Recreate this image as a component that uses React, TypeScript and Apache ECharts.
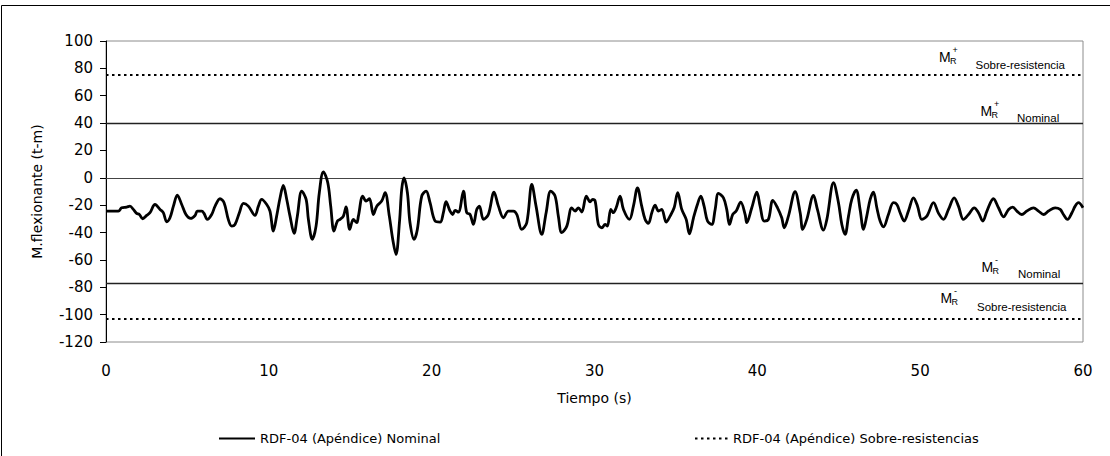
import React, { useEffect, useRef } from "react";
import * as echarts from "echarts";

// Time (s)
const timeS = [
  0, 0.76, 0.96, 1.27, 1.47, 1.68, 1.88, 2.05, 2.25, 2.5, 2.7, 3.01, 3.32, 3.52, 3.73, 3.93, 4.14, 4.38, 4.65, 4.91,
  5.2, 5.47, 5.61, 5.88, 6.02, 6.22, 6.49, 6.7, 7.0, 7.25, 7.51, 7.72, 7.92, 8.19, 8.44, 8.74, 9.15, 9.36, 9.56, 9.87,
  10.07, 10.28, 10.48, 10.69, 10.89, 11.1, 11.3, 11.55, 11.75, 12.02, 12.29, 12.43, 12.67, 12.9, 13.1, 13.35, 13.62, 13.8, 14.0, 14.21,
  14.37, 14.58, 14.74, 14.97, 15.19, 15.4, 15.5, 15.77, 15.97, 16.18, 16.42, 16.63, 16.93, 17.14, 17.4, 17.61, 17.81, 18.02, 18.16, 18.3,
  18.51, 18.67, 18.92, 19.12, 19.39, 19.66, 19.9, 20.21, 20.52, 20.72, 20.88, 21.13, 21.29, 21.44, 21.64, 21.95, 22.15, 22.36, 22.56, 22.77,
  22.93, 23.18, 23.48, 23.83, 24.1, 24.41, 24.71, 25.02, 25.23, 25.53, 25.84, 26.15, 26.41, 26.76, 27.03, 27.31, 27.58, 27.78, 27.99, 28.3,
  28.6, 28.81, 29.01, 29.22, 29.5, 29.73, 29.89, 30.04, 30.24, 30.45, 30.65, 30.79, 31.0, 31.16, 31.33, 31.57, 31.78, 32.15, 32.39, 32.64,
  32.9, 33.11, 33.31, 33.52, 33.72, 33.93, 34.13, 34.4, 34.64, 34.89, 35.11, 35.36, 35.63, 35.83, 36.08, 36.32, 36.53, 36.73, 36.94, 37.2,
  37.41, 37.61, 37.92, 38.12, 38.29, 38.49, 38.7, 38.98, 39.25, 39.35, 39.66, 39.97, 40.17, 40.42, 40.68, 40.95, 41.24, 41.5, 41.65, 41.91,
  42.32, 42.63, 42.79, 43.04, 43.45, 43.69, 44.06, 44.27, 44.68, 44.98, 45.19, 45.39, 45.6, 45.8, 46.07, 46.31, 46.52, 46.72, 46.93, 47.13,
  47.34, 47.54, 47.75, 48.05, 48.36, 48.57, 48.77, 49.02, 49.28, 49.59, 49.84, 50.1, 50.41, 50.82, 51.13, 51.43, 51.74, 52.09, 52.35, 52.66,
  52.97, 53.32, 53.58, 53.85, 54.1, 54.5, 54.81, 55.12, 55.43, 55.69, 55.94, 56.24, 56.55, 56.96, 57.27, 57.58, 57.88, 58.29, 58.6, 58.8,
  59.05, 59.32, 59.52, 59.72, 60,
];

// Bending moment (t-m)
const momentTm = [
  -24.3, -24.3, -21.9, -21.4, -20.7, -23.1, -26.0, -26.8, -29.9, -27.5, -25.5, -19.5, -23.1, -25.5, -32.1, -29.2, -20.7, -12.7, -19.5, -26.8,
  -29.7, -27.5, -24.3, -24.3, -26.0, -30.4, -26.8, -20.7, -15.3, -18.2, -30.4, -35.3, -34.1, -25.5, -18.7, -20.7, -27.5, -20.7, -15.8, -19.5,
  -24.3, -38.9, -28.0, -14.6, -5.6, -15.8, -28.0, -40.6, -28.0, -9.7, -15.8, -30.4, -44.9, -35.3, -10.9, 4.4, -3.6, -20.7, -38.9, -31.6,
  -30.4, -28.0, -21.2, -37.7, -30.4, -32.8, -28.0, -13.4, -17.0, -15.3, -26.8, -20.7, -17.0, -10.9, -28.0, -45.0, -56.0, -32.8, -8.5, 0,
  -10.9, -32.8, -45.0, -37.7, -13.4, -9.7, -18.2, -31.6, -32.4, -25.5, -17.5, -24.3, -26.8, -23.8, -25.1, -9.7, -25.5, -26.8, -34.1, -23.1,
  -20.7, -30.4, -26.8, -10.5, -20.7, -29.2, -24.3, -24.3, -26.8, -37.7, -32.8, -4.9, -20.7, -41.4, -25.5, -9.7, -13.4, -28.0, -40.1, -35.3,
  -21.9, -24.3, -21.9, -25.0, -13.4, -17.5, -15.8, -17.0, -34.1, -36.5, -34.1, -35.3, -23.1, -25.5, -21.9, -13.4, -23.1, -30.4, -20.7, -7.3,
  -20.7, -30.4, -33.3, -25.5, -20.0, -24.3, -23.1, -32.4, -28.0, -21.9, -10.9, -23.1, -30.4, -40.9, -29.2, -19.5, -13.4, -20.7, -31.6, -34.1,
  -23.1, -11.4, -14.6, -23.1, -34.1, -26.8, -24.3, -17.8, -26.8, -32.8, -21.9, -10.5, -20.7, -31.6, -30.4, -16.5, -21.9, -29.2, -36.5, -28.0,
  -10.2, -25.5, -37.7, -30.4, -12.9, -23.1, -38.2, -30.4, -3.6, -18.0, -34.1, -41.4, -28.0, -15.8, -9.0, -23.1, -37.7, -28.0, -15.8, -10.5,
  -21.9, -31.6, -35.8, -26.8, -18.2, -19.5, -25.5, -31.6, -24.3, -14.6, -20.7, -30.4, -28.0, -18.2, -26.0, -30.4, -23.1, -14.6, -20.7, -30.4,
  -26.8, -21.9, -25.5, -31.6, -24.3, -15.3, -21.9, -28.5, -23.1, -21.4, -24.3, -26.8, -24.3, -21.9, -24.3, -26.8, -24.3, -21.9, -23.1, -26.8,
  -30.4, -25.5, -20.7, -18.2, -21.9,
];

const nominalLimits = [40, -77];
const overStrengthLimits = [75, -103];

const xMin = 0;
const xMax = 60;
const xInterval = 10;
const yMin = -120;
const yMax = 100;
const yInterval = 20;

const seriesNames = ["RDF-04 (Apéndice) Nominal", "RDF-04 (Apéndice) Sobre-resistencias"];
const xAxisTitle = "Tiempo (s)";
const yAxisTitle = "M.flexionante (t-m)";

// annotation labels: sign and subscript word
const limitLabels = [
  { sign: "+", word: "Sobre-resistencia", x: 939, yBase: 62, yWord: 68.7, ySign: 49.5 },
  { sign: "+", word: "Nominal", x: 980.5, yBase: 115.7, yWord: 122, ySign: 103.5 },
  { sign: "-", word: "Nominal", x: 981.5, yBase: 272, yWord: 278, ySign: 259.5 },
  { sign: "-", word: "Sobre-resistencia", x: 940.5, yBase: 303.3, yWord: 310.7, ySign: 290.5 },
];

const FONT = "'Liberation Sans', Arial, Helvetica, sans-serif";
const WIDE = "'DejaVu Sans', Verdana, sans-serif";

export default function App() {
  const ref = useRef<HTMLDivElement>(null);

  useEffect(() => {
    if (!ref.current) return;
    const chart = echarts.init(ref.current, undefined, { renderer: "svg" });

    const waveData = timeS.map((t, i) => [t, momentTm[i]]);

    const graphics: any[] = [
      {
        type: "rect",
        silent: true,
        z: -10,
        shape: { x: 1.5, y: 5.5, width: 1200, height: 600 },
        style: { fill: "none", stroke: "#000", lineWidth: 1 },
      },
    ];
    limitLabels.forEach((l) => {
      graphics.push(
        {
          type: "text",
          x: l.x,
          y: l.yBase - 4.9,
          style: { text: "M", font: `14px ${FONT}`, fill: "#000", verticalAlign: "middle", align: "left" },
        },
        {
          type: "text",
          x: l.x + 11,
          y: l.yBase - 1,
          style: { text: "R", font: `9px ${FONT}`, fill: "#000", verticalAlign: "middle", align: "left" },
        },
        {
          type: "text",
          x: l.x + 13.5,
          y: l.ySign,
          style: { text: l.sign, font: `9px ${FONT}`, fill: "#000", verticalAlign: "middle", align: "left" },
        },
        {
          type: "text",
          x: l.x + 36.5,
          y: l.yWord - 4,
          style: { text: l.word, font: `11.5px ${FONT}`, fill: "#000", verticalAlign: "middle", align: "left" },
        }
      );
    });

    const legendBase = {
      top: 427,
      itemHeight: 14,
      itemGap: 0,
      selectedMode: false,
      itemStyle: { opacity: 0 },
      textStyle: { fontSize: 13, color: "#000", fontFamily: WIDE },
    };

    const option: any = {
      animation: false,
      backgroundColor: "#fff",
      textStyle: { fontFamily: WIDE },
      grid: {
        left: 106,
        top: 41,
        right: 27,
        bottom: 114,
        show: true,
        borderColor: "#8c8c8c",
        borderWidth: 1,
        backgroundColor: "transparent",
      },
      legend: [
        { ...legendBase, data: [seriesNames[0]], left: 213, itemWidth: 36 },
        { ...legendBase, data: [seriesNames[1]], left: 689, itemWidth: 33 },
      ],
      xAxis: {
        type: "value",
        min: xMin,
        max: xMax,
        interval: xInterval,
        name: xAxisTitle,
        nameLocation: "middle",
        nameGap: 49,
        nameTextStyle: { fontSize: 14, color: "#000", fontFamily: WIDE },
        axisLine: { show: false },
        axisTick: { show: false },
        splitLine: { show: false },
        axisLabel: { fontSize: 15, color: "#000", margin: 21, fontFamily: WIDE },
      },
      yAxis: {
        type: "value",
        min: yMin,
        max: yMax,
        interval: yInterval,
        name: yAxisTitle,
        nameLocation: "middle",
        nameGap: 62,
        nameRotate: 90,
        nameTextStyle: { fontSize: 14, color: "#000", fontFamily: WIDE },
        axisLine: { show: true, lineStyle: { color: "#000", width: 1 } },
        axisTick: { show: true, inside: false, length: 6, lineStyle: { color: "#000", width: 1 } },
        splitLine: { show: false },
        axisLabel: { fontSize: 15, color: "#000", margin: 13, fontFamily: WIDE },
      },
      series: [
        {
          name: seriesNames[0],
          type: "line",
          data: waveData,
          smooth: 0.35,
          symbol: "none",
          lineStyle: { color: "#000", width: 2.8 },
          itemStyle: { color: "#000" },
          z: 5,
          markLine: {
            silent: true,
            symbol: ["none", "none"],
            label: { show: false },
            lineStyle: { color: "#222", width: 1.3, type: "solid" },
            data: [{ yAxis: 0, lineStyle: { color: "#444", width: 1.2 } }, ...nominalLimits.map((v) => ({ yAxis: v }))],
          },
        },
        {
          name: seriesNames[1],
          type: "line",
          data: [],
          symbol: "none",
          lineStyle: { color: "#000", width: 2, type: [2.5, 3.5] },
          itemStyle: { color: "#000" },
          markLine: {
            silent: true,
            symbol: ["none", "none"],
            label: { show: false },
            lineStyle: { color: "#000", width: 2, type: [2.5, 3.5] },
            data: overStrengthLimits.map((v) => ({ yAxis: v })),
          },
        },
      ],
      graphic: graphics,
    };

    chart.setOption(option);
    return () => {
      chart.dispose();
    };
  }, []);

  return (
    <div
      ref={ref}
      style={{ position: "fixed", left: 0, top: 0, width: 1110, height: 456, background: "#fff" }}
    />
  );
}
